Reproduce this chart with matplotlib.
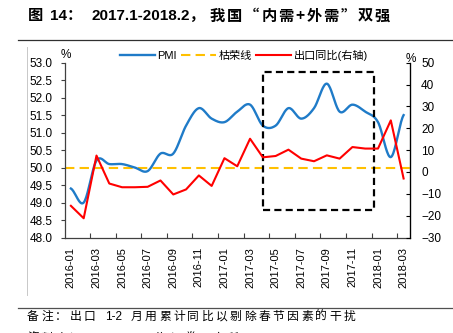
import re
import numpy as np
import matplotlib
matplotlib.use("Agg")
import matplotlib.pyplot as plt
from matplotlib.lines import Line2D
from matplotlib.patches import Rectangle

plt.rcParams['font.family'] = ['Liberation Sans', 'Noto Sans CJK SC']

# data
months = ['2016-01', '2016-02', '2016-03', '2016-04', '2016-05', '2016-06',
          '2016-07', '2016-08', '2016-09', '2016-10', '2016-11', '2016-12',
          '2017-01', '2017-02', '2017-03', '2017-04', '2017-05', '2017-06',
          '2017-07', '2017-08', '2017-09', '2017-10', '2017-11', '2017-12',
          '2018-01', '2018-02', '2018-03']
pmi = [49.4, 49.0, 50.2, 50.1, 50.1, 50.0, 49.9, 50.4, 50.4, 51.2, 51.7, 51.4,
       51.3, 51.6, 51.8, 51.2, 51.2, 51.7, 51.4, 51.7, 52.4, 51.6, 51.8, 51.6,
       51.3, 50.3, 51.5]
export_yoy = [-15.5, -21.2, 7.5, -5.3, -7.0, -7.0, -6.8, -3.9, -10.3, -8.0, -1.6, -6.4,
              6.3, 2.6, 15.2, 6.7, 7.3, 10.2, 6.1, 4.9, 7.6, 6.1, 11.4, 10.7,
              10.7, 23.6, -3.0]
boom_bust = 50.0

title_parts = ['图 14：', '2017.1-2018.2，', '我国“内需+外需”双强']
note = '备注：出口 1-2 月用累计同比以剔除春节因素的干扰'
source = '资料来源：Wind，国海证券研究所'

W, H = 453, 333


def smooth(y, n=20):
    # Catmull-Rom spline, like Excel's "smoothed line"
    y = np.asarray(y, float)
    p = np.concatenate([[y[0]], y, [y[-1]]])
    xs, ys = [], []
    for i in range(len(y) - 1):
        p0, p1, p2, p3 = p[i], p[i + 1], p[i + 2], p[i + 3]
        t = np.linspace(0, 1, n, endpoint=False)
        ys.append(0.5 * (2 * p1 + (-p0 + p2) * t + (2 * p0 - 5 * p1 + 4 * p2 - p3) * t ** 2
                         + (-p0 + 3 * p1 - 3 * p2 + p3) * t ** 3))
        xs.append(i + t)
    xs.append([len(y) - 1])
    ys.append([y[-1]])
    return np.concatenate(xs), np.concatenate(ys)


fig = plt.figure(figsize=(W / 100, H / 100), dpi=100)
renderer = fig.canvas.get_renderer()


def tracked(x, y, s, track, size, **kw):
    # draw a string piece by piece with extra letter spacing (px);
    # runs of latin characters stay together
    for tok in re.findall(r'[A-Za-z0-9.\-]+| |.', s):
        if tok == ' ':
            x += size * 0.35 * 100 / 72 + track
            continue
        t = fig.text(x / W, 1 - y / H, tok, fontsize=size, va='center', **kw)
        x += t.get_window_extent(renderer).width + track
    return x


ax = fig.add_axes([64.5 / W, 95.5 / H, 345.5 / W, 174.8 / H])
ax2 = ax.twinx()

x = np.arange(len(months))
sx, sy = smooth(pmi)
l1, = ax.plot(sx, sy, color='#1f7bc8', lw=1.7, label='PMI', zorder=3)
l2 = ax.axhline(boom_bust, color='#ffc000', lw=1.5, dashes=(4.5, 2.5), label='枯荣线', zorder=2)
l3, = ax2.plot(x, export_yoy, color='#ff0000', lw=1.5, label='出口同比(右轴)', zorder=3)

ax.set_xlim(-0.5, len(months) - 0.5)
ax.set_ylim(48, 53)
ax.set_yticks(np.arange(48, 53.01, 0.5))
ax.set_yticklabels([f'{v:.1f}' for v in np.arange(48, 53.01, 0.5)])
ax2.set_ylim(-30, 50)
ax2.set_yticks(np.arange(-30, 51, 10))

ax.set_xticks(x[::2])
ax.set_xticklabels(months[::2], rotation=90)
ax.set_xticks(np.arange(1.5, len(months) - 1, 2), minor=True)
ax.tick_params(axis='x', which='major', length=0, pad=7, labelsize=8)
ax.tick_params(axis='x', which='minor', direction='in', length=3.5, width=0.8, color='#404040')
ax.tick_params(axis='y', direction='out', length=3, width=0.8, pad=5.5, labelsize=8.5, color='#404040')
ax2.tick_params(axis='y', direction='in', length=3, width=0.8, pad=8, labelsize=8.5)

ax.spines['top'].set_visible(False)
ax2.spines['top'].set_visible(False)
for s in ('left', 'bottom'):
    ax.spines[s].set_color('#404040')
    ax.spines[s].set_linewidth(0.9)
ax2.spines['left'].set_visible(False)
ax2.spines['bottom'].set_visible(False)
ax2.spines['right'].set_linewidth(0.9)

# dashed highlight box
ax.add_patch(Rectangle((14.98, 48.78), 8.69, 3.94, fill=False, ec='black', lw=1.6,
                       ls=(0, (3.2, 1.9)), zorder=4, clip_on=False))

fig.legend(handles=[l1, l2, l3], loc='center', bbox_to_anchor=(244 / W, 1 - 55 / H),
           ncol=3, frameon=False, fontsize=8, handlelength=3.1, handletextpad=0.25,
           columnspacing=0.4)

fig.text(65.5 / W, 1 - 55 / H, '%', fontsize=8.5, ha='center', va='center')
fig.text(411 / W, 1 - 59 / H, '%', fontsize=8.5, ha='center', va='center')

# title
tracked(28, 16, title_parts[0], 0.5, 11, fontweight='bold')
fig.text(92 / W, 1 - 16 / H, title_parts[1], fontsize=11, fontweight='bold', va='center')
tracked(210, 16, title_parts[2], 1.8, 11, fontweight='bold',
        family=['Noto Sans CJK SC'])

fig.add_artist(Line2D([18 / W, 1], [1 - 39.5 / H] * 2, color='#303030', lw=0.9))
fig.add_artist(Line2D([26.5 / W] * 2, [1 - 47 / H, 1 - 295 / H], color='#c8c8c8', lw=0.7))
fig.add_artist(Line2D([18 / W, 1], [1 - 307.5 / H] * 2, color='#505050', lw=0.9))
tracked(27, 317, note, 2.45, 8.5)
tracked(27, 339, source, 2.45, 8.5)

fig.savefig('out.png', dpi=100)
